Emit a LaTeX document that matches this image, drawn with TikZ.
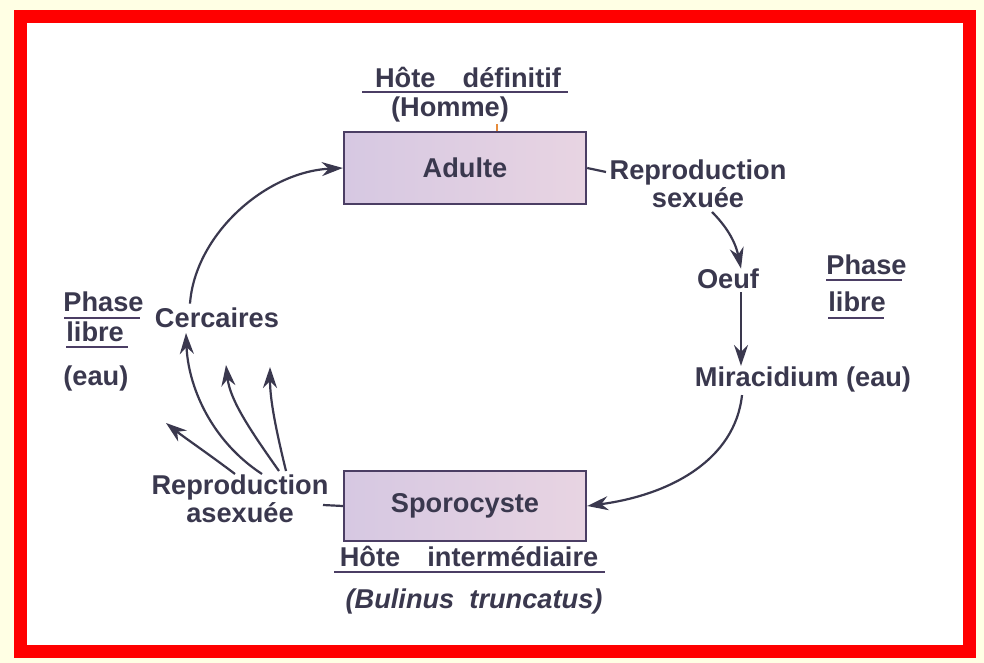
\documentclass[tikz,border=0pt]{standalone}
\usepackage{fontspec}
\setmainfont{Liberation Sans}
\usetikzlibrary{arrows.meta}
\definecolor{bgyellow}{RGB}{255,255,228}
\definecolor{framered}{RGB}{255,0,0}
\definecolor{ink}{RGB}{58,56,78}
\definecolor{boxline}{RGB}{75,62,100}
\definecolor{boxA}{RGB}{214,200,226}
\definecolor{boxB}{RGB}{226,222,218}
\definecolor{boxC}{RGB}{232,212,226}
\definecolor{tick}{RGB}{230,140,60}
\tikzset{
  lbl/.style={text=ink, font=\fontsize{13.6}{12}\selectfont\bfseries, inner sep=0pt, align=center},
  ilbl/.style={text=ink, font=\fontsize{13.6}{12}\selectfont\bfseries\itshape, inner sep=0pt},
  stagebox/.style={draw=boxline, line width=1.2pt, left color=boxA, middle color=boxB, right color=boxC,
     minimum width=121pt, minimum height=36pt, inner sep=0pt, text=ink, font=\fontsize{13.6}{15}\selectfont\bfseries},
  arr/.style={draw=ink, line width=1.1pt, -{Stealth[length=10.5pt,width=7pt]}},
  lnk/.style={draw=ink, line width=1.1pt},
  uline/.style={draw=boxline, line width=1.1pt}
}
\begin{document}
\begin{tikzpicture}[x=0.5pt,y=-0.5pt]
\useasboundingbox (0,0) rectangle (984,663);
\fill[bgyellow] (0,0) rectangle (984,663);
\fill[white] (20,17) rectangle (969,651);
\draw[framered, line width=6.5pt] (20,17) rectangle (969,651);

% boxes
\node[stagebox] (adulte) at (465,168) {Adulte};
\node[stagebox, minimum height=35pt] (sporo) at (465,506) {Sporocyste};

% top labels
\node[lbl] (hote1) at (468,77) {Hôte\quad définitif};
\draw[uline] (362,92) -- (568,92);
\node[lbl] (homme) at (450,109) {(Homme)};
\draw[tick, line width=1pt] (homme.south -| 497,0) ++(0,2) -- (adulte.north -| 497,0);

% right side
\node[lbl] (repsex) at (698,184) {Reproduction\\sexuée};
\draw[lnk] (adulte.east) -- (606,172);
\node[lbl] (oeuf) at (728,279) {Oeuf};
\node[lbl] (mira) at (803,379) {Miracidium (eau)};
\draw[arr] (712,212) .. controls (725,225) and (735,240) .. (oeuf.north -| 741,0);
\draw[arr] (oeuf.south -| 741,0) ++(0,3) -- (mira.north -| 741,0);
\draw[arr] (mira.south -| 742,0) ++(0,3) .. controls (735,460) and (670,495) .. (sporo.east);

\node[lbl, anchor=west] (phaseR) at (826,265) {Phase};
\draw[uline] (826,280) -- (902,280);
\node[lbl, anchor=west] (libreR) at (828,302) {libre};
\draw[uline] (828,318) -- (884,318);

% bottom labels
\node[lbl] (hote2) at (469,556) {Hôte\quad intermédiaire};
\draw[uline] (334,572) -- (605,572);
\node[ilbl] (bulinus) at (474,601) {(Bulinus\ \ truncatus)};

% left side
\node[lbl] (repasex) at (240,499) {Reproduction\\asexuée};
\draw[lnk] (sporo.west) -- (323,505);
\node[lbl] (cerc) at (217,318) {Cercaires};
\draw[arr] (cerc.north -| 190,0) ++(0,-4) .. controls (195,235) and (265,172) .. (adulte.west);

\coordinate (o1) at (235,474);
\coordinate (o2) at (262,474);
\coordinate (o3) at (279,471);
\coordinate (o4) at (286,471);
\draw[arr] (o1) .. controls (210,455) and (185,438) .. (166,423);
\draw[arr] (o2) .. controls (210,440) and (188,385) .. (186,333);
\draw[arr] (o3) .. controls (250,430) and (230,400) .. (226,365);
\draw[arr] (o4) .. controls (276,430) and (270,400) .. (270,367);

\node[lbl, anchor=west] (phaseL) at (63,302) {Phase};
\draw[uline] (64,318) -- (140,318);
\node[lbl, anchor=west] (libreL) at (66,332) {libre};
\draw[uline] (66,347) -- (128,347);
\node[lbl, anchor=west] (eauL) at (63,378) {(eau)};
\end{tikzpicture}
\end{document}
